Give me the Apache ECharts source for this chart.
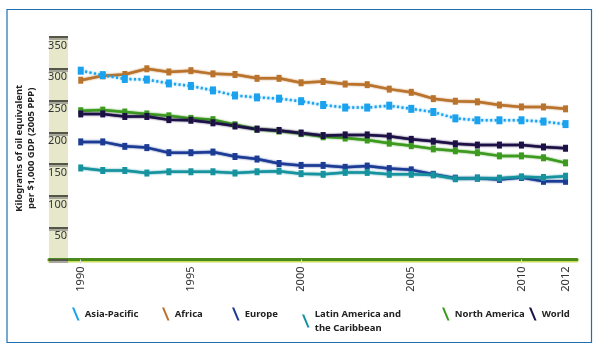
<!DOCTYPE html>
<html>
<head>
<meta charset="utf-8">
<script src="https://cdn.jsdelivr.net/npm/echarts@6/dist/echarts.min.js"></script>
<style>
  html, body { margin: 0; padding: 0; background: #fff; }
  #chart { width: 602px; height: 354px; }
</style>
</head>
<body>
<div id="chart"></div>
<script>
// 数据
var years = [1990, 1991, 1992, 1993, 1994, 1995, 1996, 1997, 1998, 1999, 2000, 2001,
             2002, 2003, 2004, 2005, 2006, 2007, 2008, 2009, 2010, 2011, 2012];
var asiaPacific = [297, 290, 284, 283, 277, 273, 266, 258, 255, 253, 249, 243,
                   239, 239, 242, 237, 232, 222, 219, 219, 219, 217, 213];
var africa = [282, 289, 291, 300, 295, 297, 292, 291, 285, 285, 278, 280,
              276, 275, 268, 263, 253, 249, 248, 243, 240, 240, 237];
var europe = [185, 185, 178, 176, 168, 168, 169, 162, 158, 151, 148, 148,
              145, 147, 143, 141, 134, 128, 128, 126, 129, 123, 123];
var latinAmerica = [144, 140, 140, 136, 138, 138, 138, 136, 138, 139, 135, 134,
                    137, 137, 134, 134, 133, 127, 128, 128, 130, 129, 131];
var northAmerica = [234, 235, 232, 229, 226, 222, 220, 212, 205, 202, 198, 193,
                    191, 188, 183, 179, 174, 171, 168, 163, 163, 160, 152];
var world = [229, 229, 225, 225, 220, 219, 215, 210, 205, 203, 199, 195,
             196, 196, 194, 189, 186, 182, 180, 180, 180, 177, 175];
var xLabels = [1990, 1995, 2000, 2005, 2010, 2012];
var xTicks = [1990, 2000, 2010];

var chart = echarts.init(document.getElementById('chart'));
var font = 'Noto Sans';

function pairs(vals) {
    var out = [];
    for (var i = 0; i < years.length; i++) out.push([years[i], vals[i]]);
    return out;
}

var seriesDefs = [
    {name: 'Asia-Pacific', data: asiaPacific, color: '#1aa2ee', dotted: true, legendLeft: 67},
    {name: 'Africa', data: africa, color: '#b9732c', legendLeft: 157},
    {name: 'Europe', data: europe, color: '#1b3b95', legendLeft: 227},
    {name: 'Latin America and\nthe Caribbean', data: latinAmerica, color: '#17939f', legendLeft: 297},
    {name: 'North America', data: northAmerica, color: '#3c9a1f', legendLeft: 437},
    {name: 'World', data: world, color: '#1d1046', legendLeft: 524}
];

var legendIcon = 'path://M0,0 L2,0 L7,12 L5,12 Z';

var series = [];
var legends = [];
seriesDefs.forEach(function (d) {
    series.push({
        name: d.name,
        type: 'line',
        data: pairs(d.data),
        color: d.color,
        symbol: 'rect',
        symbolSize: d.dotted ? [6, 8] : [5, 7],
        showSymbol: true,
        z: d.dotted ? 3 : 2,
        lineStyle: {
            width: d.dotted ? 2.5 : 2.5,
            type: d.dotted ? [2, 2.5] : 'solid',
            shadowColor: d.color,
            shadowBlur: 2
        },
        itemStyle: {color: d.color},
        emphasis: {disabled: true}
    });
    legends.push({
        data: [d.name],
        left: d.legendLeft,
        top: 302,
        icon: legendIcon,
        itemWidth: 8,
        itemHeight: 13,
        itemGap: 0,
        selectedMode: false,
        textStyle: {fontFamily: font, fontSize: 9.5, fontWeight: 'bold', color: '#222', lineHeight: 14}
    });
});

var option = {
    animation: false,
    backgroundColor: '#fff',
    grid: {left: 49, right: 25, top: 37, bottom: 94.5},
    legend: legends,
    graphic: [
        {type: 'rect', shape: {x: 7, y: 9.5, width: 584.5, height: 333}, style: {fill: 'none', stroke: '#1f6fb2', lineWidth: 1.2}, z: 0},
        {type: 'rect', shape: {x: 49, y: 36, width: 19, height: 223}, style: {fill: '#e6e8c9'}, z: 0}
    ],
    xAxis: {
        type: 'value',
        min: 1988.56,
        max: 2012.52,
        splitLine: {show: false},
        axisLine: {
            show: true,
            lineStyle: {color: '#4a8c1c', width: 3, shadowColor: '#c8dc5a', shadowOffsetY: 1.5, shadowBlur: 0}
        },
        axisTick: {show: true, customValues: xTicks, length: 4, lineStyle: {color: '#dddddd'}},
        axisLabel: {
            customValues: xLabels,
            rotate: 90,
            margin: 7,
            fontFamily: font,
            fontSize: 11,
            color: '#333',
            formatter: function (v) { return String(v); }
        }
    },
    yAxis: {
        type: 'value',
        min: 0,
        max: 350,
        interval: 50,
        name: 'Kilograms of oil equivalent\nper $1,000 GDP (2005 PPP)',
        nameLocation: 'middle',
        nameGap: 4,
        nameTextStyle: {fontFamily: font, fontSize: 9.5, fontWeight: 'bold', color: '#222', lineHeight: 12},
        splitLine: {show: false},
        axisLine: {show: false},
        axisTick: {
            show: true,
            inside: true,
            length: 19,
            lineStyle: {color: '#555548', width: 2, shadowColor: '#a8a89a', shadowOffsetY: 2, shadowBlur: 0}
        },
        axisLabel: {
            inside: true,
            margin: 18,
            align: 'right',
            verticalAlign: 'top',
            padding: [3, 0, 0, 0],
            fontFamily: font,
            fontSize: 11,
            color: '#333',
            formatter: function (v) { return v === 0 ? '' : String(v); }
        }
    },
    series: series
};
chart.setOption(option);
</script>
</body>
</html>
